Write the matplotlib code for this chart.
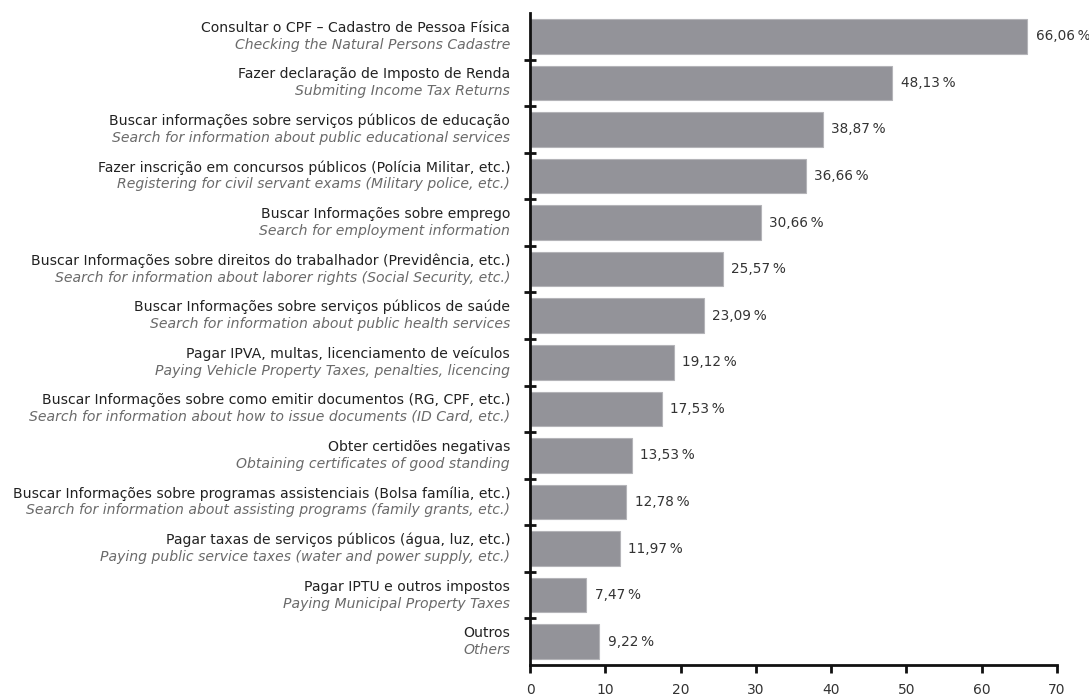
import matplotlib
matplotlib.use("Agg")
import matplotlib.pyplot as plt
from matplotlib.transforms import offset_copy, blended_transform_factory

labels_pt = [
    "Consultar o CPF – Cadastro de Pessoa Física",
    "Fazer declaração de Imposto de Renda",
    "Buscar informações sobre serviços públicos de educação",
    "Fazer inscrição em concursos públicos (Polícia Militar, etc.)",
    "Buscar Informações sobre emprego",
    "Buscar Informações sobre direitos do trabalhador (Previdência, etc.)",
    "Buscar Informações sobre serviços públicos de saúde",
    "Pagar IPVA, multas, licenciamento de veículos",
    "Buscar Informações sobre como emitir documentos (RG, CPF, etc.)",
    "Obter certidões negativas",
    "Buscar Informações sobre programas assistenciais (Bolsa família, etc.)",
    "Pagar taxas de serviços públicos (água, luz, etc.)",
    "Pagar IPTU e outros impostos",
    "Outros",
]
labels_en = [
    "Checking the Natural Persons Cadastre",
    "Submiting Income Tax Returns",
    "Search for information about public educational services",
    "Registering for civil servant exams (Military police, etc.)",
    "Search for employment information",
    "Search for information about laborer rights (Social Security, etc.)",
    "Search for information about public health services",
    "Paying Vehicle Property Taxes, penalties, licencing",
    "Search for information about how to issue documents (ID Card, etc.)",
    "Obtaining certificates of good standing",
    "Search for information about assisting programs (family grants, etc.)",
    "Paying public service taxes (water and power supply, etc.)",
    "Paying Municipal Property Taxes",
    "Others",
]
values = [66.06, 48.13, 38.87, 36.66, 30.66, 25.57, 23.09, 19.12, 17.53, 13.53, 12.78, 11.97, 7.47, 9.22]
xticks = [0, 10, 20, 30, 40, 50, 60, 70]

plt.rcParams["font.family"] = ["DejaVu Sans"]

fig = plt.figure(figsize=(10.89, 6.98), dpi=100)
ax = fig.add_axes([0.4867, 0.0473, 0.4840, 0.9341])

n = len(values)
pos = list(range(n))
ax.barh(pos, values, height=0.74, color="#939399", edgecolor="#b4b4b8", linewidth=0.8, zorder=2)

ax.set_ylim(n - 0.5, -0.5)
ax.set_xlim(0, 70)
ax.set_xticks(xticks)
ax.set_xticklabels([str(t) for t in xticks], fontsize=10, color="#333333")
ax.set_yticks([i - 0.5 for i in range(1, n)])
ax.set_yticklabels([])

for side in ("top", "right"):
    ax.spines[side].set_visible(False)
for side in ("left", "bottom"):
    ax.spines[side].set_linewidth(2.0)
    ax.spines[side].set_color("#111111")
ax.tick_params(axis="x", direction="out", length=6, width=2, pad=7, color="#111111")
ax.tick_params(axis="y", direction="inout", length=8, width=2, color="#111111")

# value labels next to each bar
for i, v in enumerate(values):
    txt = f"{v:.2f}".replace(".", ",") + "\u2009%"
    ax.annotate(txt, (v, i), xytext=(6, 0), textcoords="offset points",
                va="center", ha="left", fontsize=9.8, color="#333333")

# two-line category labels: Portuguese above, English italic below
trans = blended_transform_factory(ax.transAxes, ax.transData)
t_top = offset_copy(trans, fig=fig, x=-20, y=8.5, units="dots")
t_bot = offset_copy(trans, fig=fig, x=-20, y=-8.5, units="dots")
for i in range(n):
    ax.text(0, i, labels_pt[i], transform=t_top, ha="right", va="center",
            fontsize=10.1, color="#222222")
    ax.text(0, i, labels_en[i], transform=t_bot, ha="right", va="center",
            fontsize=10.1, color="#6a6a6a", style="italic")

fig.savefig("out.png", dpi=100, facecolor="white")
